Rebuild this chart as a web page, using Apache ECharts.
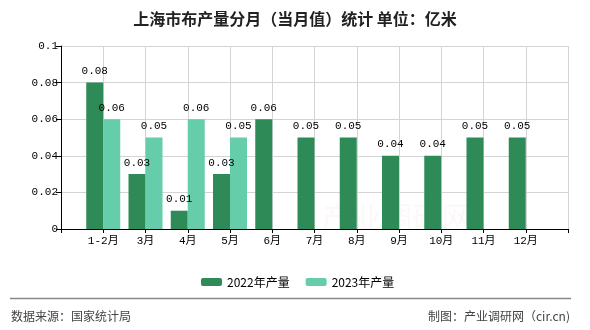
<!DOCTYPE html>
<html>
<head>
<meta charset="utf-8">
<script src="https://cdn.jsdelivr.net/npm/echarts@6/dist/echarts.min.js"></script>
<style>html,body{margin:0;padding:0;background:#fff;}#c{width:590px;height:330px;}</style>
</head>
<body>
<div id="c"></div>
<script>
var titleText = '上海市布产量分月（当月值）统计 单位：亿米';
var categories = ['', '1-2月', '3月', '4月', '5月', '6月', '7月', '8月', '9月', '10月', '11月', '12月', ''];
var seriesNames = ['2022年产量', '2023年产量'];
var values2022 = [null, 0.08, 0.03, 0.01, 0.03, 0.06, 0.05, 0.05, 0.04, 0.04, 0.05, 0.05, null];
var values2023 = [null, 0.06, 0.05, 0.06, 0.05, null, null, null, null, null, null, null, null];
var yTicks = { min: 0, max: 0.1, interval: 0.02 };
var sourceText = '数据来源：国家统计局';
var creditText = '制图：产业调研网（cir.cn)';
var watermarkText = '产业调研网';

var chart = echarts.init(document.getElementById('c'), null, { renderer: 'canvas' });
var numFont = '"Liberation Mono", "DejaVu Sans Mono", monospace';
var cjkFont = '"Noto Sans CJK SC", sans-serif';
var mixFont = '"Liberation Mono", "Noto Sans CJK SC", monospace';

var labelCfg = {
  show: true, position: 'top', distance: 6,
  color: '#000', fontFamily: numFont, fontSize: 11,
  formatter: function (p) { return p.value == null ? '' : String(p.value); }
};

chart.setOption({
  animation: false,
  backgroundColor: '#fff',
  title: {
    text: titleText, left: 'center', top: 6,
    textStyle: { fontFamily: cjkFont, fontSize: 16, fontWeight: 'bold', color: '#222' }
  },
  legend: {
    data: seriesNames, left: 196, top: 271,
    itemWidth: 21, itemHeight: 8, itemGap: 16,
    textStyle: { fontFamily: cjkFont, fontSize: 12, color: '#000' }
  },
  grid: { left: 61, right: 22, top: 46, bottom: 101, containLabel: false },
  xAxis: {
    type: 'category', data: categories, boundaryGap: false,
    axisLine: { lineStyle: { color: '#000', width: 1 } },
    axisTick: { show: true, length: 4, interval: 0, lineStyle: { color: '#000' } },
    axisLabel: { interval: 0, margin: 7, color: '#000', fontFamily: mixFont, fontSize: 11 },
    splitLine: { show: true, interval: 0, lineStyle: { color: '#d4d4d4', width: 1 } }
  },
  yAxis: {
    type: 'value', min: yTicks.min, max: yTicks.max, interval: yTicks.interval,
    axisLine: { show: true, lineStyle: { color: '#000', width: 1 } },
    axisTick: { show: true, length: 5, lineStyle: { color: '#000' } },
    axisLabel: { margin: 3, color: '#000', fontFamily: numFont, fontSize: 11 },
    splitLine: { show: true, lineStyle: { color: '#d4d4d4', width: 1 } }
  },
  series: [
    { name: seriesNames[0], type: 'bar', data: values2022, barWidth: 17, barGap: '0%',
      itemStyle: { color: '#2E8B57' }, label: labelCfg, z: 3 },
    { name: seriesNames[1], type: 'bar', data: values2023, barWidth: 17, barGap: '0%',
      itemStyle: { color: '#66CDAA' }, label: labelCfg, z: 3 }
  ],
  graphic: [
    { type: 'text', left: 322, top: 202, z: -10, silent: true,
      style: { text: watermarkText, fontFamily: cjkFont, fontSize: 30, fill: 'rgba(220,160,160,0.07)' } },
    { type: 'line', shape: { x1: 10, y1: 298.5, x2: 571, y2: 298.5 },
      style: { stroke: '#888', lineWidth: 1.5 } },
    { type: 'text', left: 11, top: 310,
      style: { text: sourceText, fontFamily: cjkFont, fontSize: 12, fill: '#444' } },
    { type: 'text', right: 20, top: 310,
      style: { text: creditText, fontFamily: cjkFont, fontSize: 12, fill: '#444' } }
  ]
});
</script>
</body>
</html>
